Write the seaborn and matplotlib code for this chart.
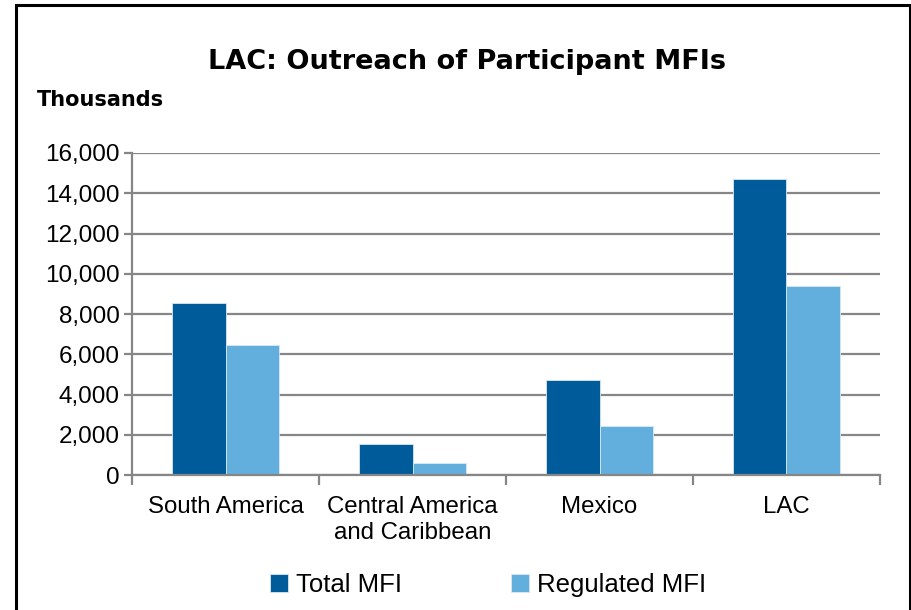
import matplotlib
matplotlib.use('Agg')
import matplotlib.pyplot as plt
import seaborn as sns
import pandas as pd
from matplotlib.patches import Rectangle
from matplotlib.ticker import FuncFormatter, FixedLocator

# データ
regions = ['South America', 'Central America\nand Caribbean', 'Mexico', 'LAC']
total_mfi = [8530, 1540, 4700, 14690]
regulated_mfi = [6460, 600, 2430, 9390]
series = ['Total MFI', 'Regulated MFI']
colors = ['#005B9A', '#62AEDC']

df = pd.DataFrame({
    'region': regions * 2,
    'series': [series[0]] * 4 + [series[1]] * 4,
    'value': total_mfi + regulated_mfi,
})

sns.set_theme(style='white')
plt.rcParams['font.family'] = ['Liberation Sans', 'DejaVu Sans']
plt.rcParams['text.color'] = 'black'
plt.rcParams['xtick.color'] = 'black'
plt.rcParams['ytick.color'] = 'black'

fig = plt.figure(figsize=(9.12, 6.1), dpi=100)
ax = fig.add_axes([132 / 912, 1 - 475 / 610, (880 - 132) / 912, (475 - 153) / 610])

sns.barplot(data=df, x='region', y='value', hue='series', palette=colors,
            saturation=1, width=0.567, ax=ax, edgecolor='#d8e8f4',
            linewidth=0.6, legend=True)

grid_c = '#868686'
ax.set_ylim(0, 16000)
ax.set_xlim(-0.5, 3.5)
ax.set_yticks(range(0, 16001, 2000))
ax.yaxis.set_major_formatter(FuncFormatter(lambda v, p: f'{int(v):,}'))
ax.grid(axis='y', color=grid_c, linewidth=1.6)
ax.set_axisbelow(True)
ax.set_xlabel('')
ax.set_ylabel('')
for s in ['top', 'right']:
    ax.spines[s].set_visible(False)
for s in ['left', 'bottom']:
    ax.spines[s].set_color(grid_c)
    ax.spines[s].set_linewidth(1.6)

ax.tick_params(axis='y', length=6, width=1.6, color=grid_c, labelsize=17.5,
               pad=3, left=True, labelcolor='black')
ax.tick_params(axis='x', which='major', length=0, labelsize=17.3, pad=15,
               labelcolor='black')
ax.xaxis.set_minor_locator(FixedLocator([-0.5, 0.5, 1.5, 2.5, 3.5]))
ax.tick_params(axis='x', which='minor', length=7, width=1.6, color=grid_c, bottom=True)
for lbl in ax.get_xticklabels():
    lbl.set_linespacing(1.25)
    lbl.set_verticalalignment('top')

# 凡例
handles, labels = ax.get_legend_handles_labels()
ax.legend_.remove()
fig.legend(handles, labels, loc='center', bbox_to_anchor=(488 / 912, 1 - 585 / 610),
           ncol=2, frameon=False, fontsize=18.5, handlelength=0.7, handleheight=0.7,
           handletextpad=0.3, columnspacing=4.25, labelcolor='black')

fig.text(467 / 912, 1 - 62 / 610, 'LAC: Outreach of Participant MFIs',
         ha='center', va='center', fontsize=19.5, fontweight='bold',
         family=['DejaVu Sans'], color='black')
fig.text(37 / 912, 1 - 100 / 610, 'Thousands', ha='left', va='center',
         fontsize=15, fontweight='bold', family=['DejaVu Sans'], color='black')

# 外枠
fig.patches.append(Rectangle((16 / 912, -0.1), (910 - 16) / 912, 1.1 - 5 / 610,
                             transform=fig.transFigure, fill=False,
                             edgecolor='black', linewidth=2.2, clip_on=False))

fig.savefig('out.png', dpi=100, facecolor='white')
